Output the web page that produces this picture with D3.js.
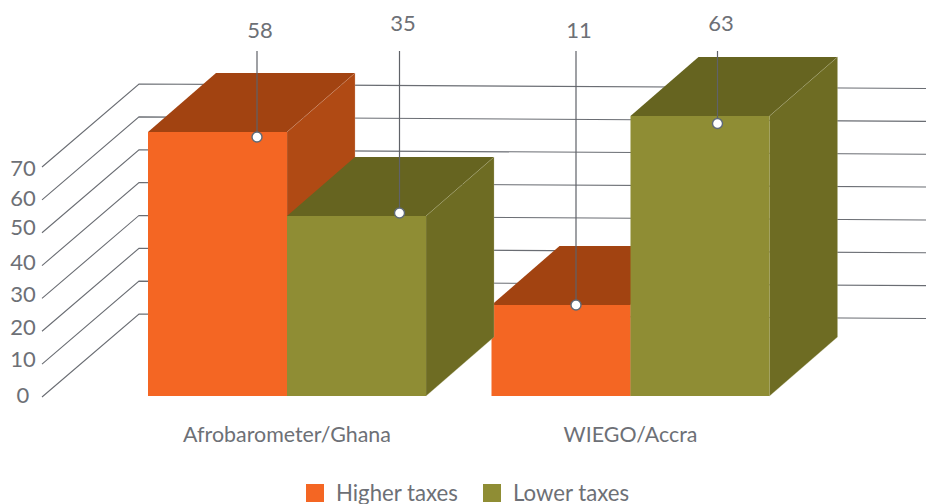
<!DOCTYPE html>
<html>
<head>
<meta charset="utf-8">
<script src="https://cdn.jsdelivr.net/npm/d3@7"></script>
<style>
  html, body { margin: 0; padding: 0; background: #fff; }
  svg { display: block; }
  text { font-family: Lato, "Open Sans", sans-serif; fill: #6d7076; }
</style>
</head>
<body>
<div id="chart-container"></div>
<script>
// Chart data
var categories = ["Afrobarometer/Ghana", "WIEGO/Accra"];
var seriesNames = ["Higher taxes", "Lower taxes"];
var higherTaxes = [58, 11];
var lowerTaxes = [35, 63];
var tickValues = [0, 10, 20, 30, 40, 50, 60, 70];

var width = 926, height = 504;
var colors = [
  { front: "#f46623", top: "#a24311", side: "#b04a14", edge: "#d8a58c" },
  { front: "#8f8d34", top: "#666420", side: "#6e6c23", edge: "#b9b88c" }
];

var svg = d3.select("#chart-container")
  .append("svg")
  .attr("width", width)
  .attr("height", height);

// Depth of the fake 3d box
var depthX = 68, depthY = -59;
var baseY = 396;

// Axis runs on the back wall, tick labels sit at the front
var yScale = d3.scaleLinear().domain([0, 70]).range([314, 84]);

// The picture's bars do not follow the axis, so they get their own scales
var barTop = d3.scaleLinear().domain([11, 35, 58, 63]).range([305, 216, 132, 116]);
var dotY = d3.scaleLinear().domain([11, 35, 58, 63]).range([305, 213, 137, 123.5]);

var barWidth = 139;
var groupStart = [148, 491.5];

// Leader and label placement per bar: [group][series]
var dotDx = [[39.5, 43], [15, 17.5]];
var labelY = [[30, 23], [30, 23]];
var labelDx = [[3, 3.5], [3, 3.5]];
var tickNudge = [-2, -5, -4, -4, -3, -5, -2, 1];

var grid = svg.append("g").attr("class", "grid");

tickValues.forEach(function(t, i) {
  var backY = yScale(t);
  grid.append("path")
    .attr("d", d3.line()([[42, backY + 83], [139, backY], [926, backY + 4.5]]))
    .attr("fill", "none")
    .attr("stroke", "#6a6d73")
    .attr("stroke-width", 1.1);

  svg.append("text")
    .attr("x", 23)
    .attr("y", backY + 83 + tickNudge[i])
    .attr("text-anchor", "middle")
    .attr("font-size", 22)
    .attr("dy", "0.35em")
    .text(t);
});

// Flatten the values into one list of bars
var bars = [];
categories.forEach(function(c, g) {
  [higherTaxes, lowerTaxes].forEach(function(values, s) {
    bars.push({ group: g, series: s, value: values[g] });
  });
});

// Right group first, so the left group's side face stays on top
var drawOrder = bars.slice().sort(function(a, b) {
  return (b.group - a.group) || (a.series - b.series);
});

function barX(d) {
  return groupStart[d.group] + d.series * barWidth;
}

function poly(pts) {
  return d3.line()(pts) + "Z";
}

var boxes = svg.selectAll(".box")
  .data(drawOrder)
  .enter()
  .append("g")
  .attr("class", "box");

boxes.append("path")
  .attr("fill", function(d) { return colors[d.series].top; })
  .attr("d", function(d) {
    var x = barX(d), y = barTop(d.value);
    return poly([[x, y], [x + barWidth, y], [x + barWidth + depthX, y + depthY], [x + depthX, y + depthY]]);
  });

boxes.append("path")
  .attr("fill", function(d) { return colors[d.series].side; })
  .attr("stroke", function(d) { return colors[d.series].edge; })
  .attr("stroke-width", 0.5)
  .attr("stroke-opacity", 0.6)
  .attr("d", function(d) {
    var x = barX(d) + barWidth, y = barTop(d.value);
    return poly([[x, y], [x + depthX, y + depthY], [x + depthX, baseY + depthY], [x, baseY]]);
  });

boxes.append("rect")
  .attr("x", barX)
  .attr("y", function(d) { return barTop(d.value); })
  .attr("width", barWidth)
  .attr("height", function(d) { return baseY - barTop(d.value); })
  .attr("fill", function(d) { return colors[d.series].front; });

// Leader lines, points and value labels
var leaders = svg.selectAll(".leader")
  .data(bars)
  .enter()
  .append("g")
  .attr("class", "leader");

function dotX(d) {
  return barX(d) + barWidth / 2 + dotDx[d.group][d.series];
}

leaders.append("line")
  .attr("x1", dotX)
  .attr("x2", dotX)
  .attr("y1", 51)
  .attr("y2", function(d) { return dotY(d.value); })
  .attr("stroke", "#5f6268")
  .attr("stroke-width", 1.2);

leaders.append("circle")
  .attr("cx", dotX)
  .attr("cy", function(d) { return dotY(d.value); })
  .attr("r", 5)
  .attr("fill", "#fff")
  .attr("stroke", "#5f6a78")
  .attr("stroke-width", 1.4);

leaders.append("text")
  .attr("x", function(d) { return dotX(d) + labelDx[d.group][d.series]; })
  .attr("y", function(d) { return labelY[d.group][d.series]; })
  .attr("dy", "0.35em")
  .attr("text-anchor", "middle")
  .attr("font-size", 22)
  .text(function(d) { return d.value; });

// Category labels
svg.selectAll(".cat")
  .data(categories)
  .enter()
  .append("text")
  .attr("class", "cat")
  .attr("x", function(d, i) { return [287, 630.5][i]; })
  .attr("y", 442)
  .attr("text-anchor", "middle")
  .attr("font-size", 21.4)
  .text(function(d) { return d; });

// Legend
var legend = svg.selectAll(".legend-item")
  .data(seriesNames)
  .enter()
  .append("g")
  .attr("class", "legend-item")
  .attr("transform", function(d, i) { return "translate(" + [306, 483][i] + ",484)"; });

legend.append("rect")
  .attr("width", 18)
  .attr("height", 18)
  .attr("fill", function(d, i) { return colors[i].front; });

legend.append("text")
  .attr("x", 30)
  .attr("y", 17)
  .attr("font-size", 22.2)
  .text(function(d) { return d; });
</script>
</body>
</html>
